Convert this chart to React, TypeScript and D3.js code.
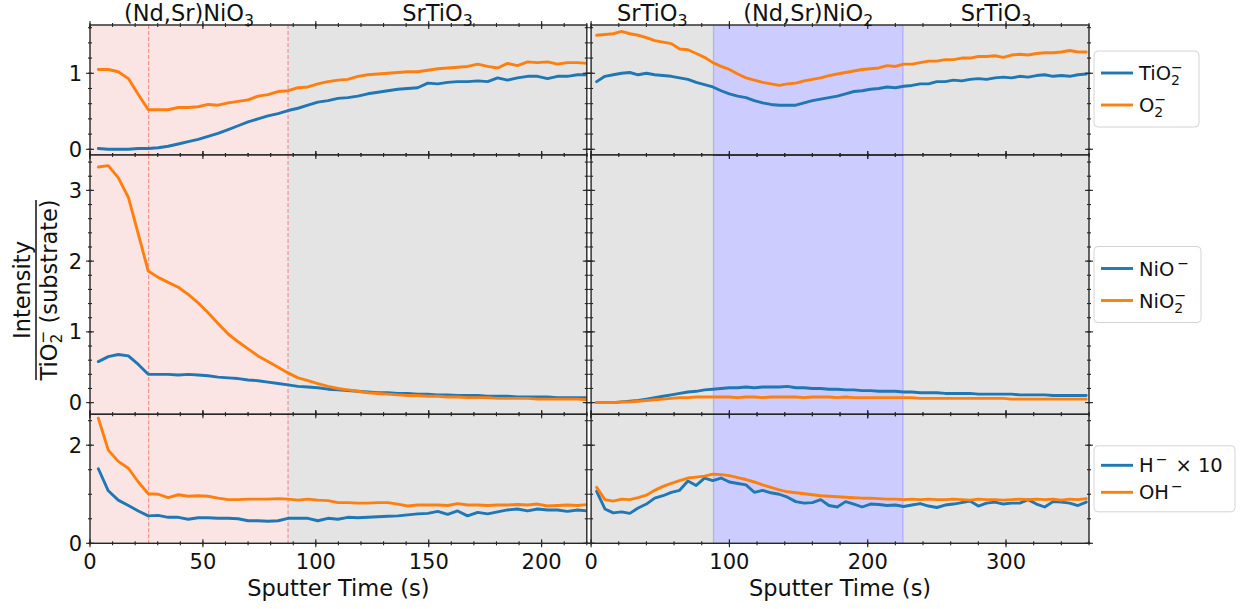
import React from 'react';
import * as d3 from 'd3';

const W = 1242;
const H = 609;
const BLUE = '#1f77b4';
const ORANGE = '#ff7f0e';
const FONT = '"DejaVu Sans", Verdana, sans-serif';

// sputter times (s) of the two depth profiles
const leftTimes = [3.7, 8.1, 12.5, 17.0, 21.4, 25.8, 30.2, 34.6, 39.1, 43.5, 47.9, 52.3, 56.7, 61.2, 65.6, 70.0, 74.4, 78.8, 83.3, 87.7,
  92.1, 96.5, 100.9, 105.4, 109.8, 114.2, 118.6, 123.0, 127.5, 131.9, 136.3, 140.7, 145.1, 149.6, 154.0, 158.4, 162.8, 167.2, 171.7, 176.1,
  180.5, 184.9, 189.3, 193.8, 198.2, 202.6, 207.0, 211.4, 215.9, 220.3];
const rightTimes = [4, 10, 16, 22, 28, 34, 40, 46, 52, 58, 64, 70, 76, 82, 88, 94, 100, 106, 112, 118,
  124, 130, 136, 142, 148, 154, 160, 166, 172, 178, 184, 190, 196, 202, 208, 214, 220, 226, 232, 238,
  244, 250, 256, 262, 268, 274, 280, 286, 292, 298, 304, 310, 316, 322, 328, 334, 340, 346, 352, 358];

// (Nd,Sr)NiO3 / SrTiO3
const leftTiO2 = [0.01, 0.00, 0.00, 0.00, 0.01, 0.01, 0.02, 0.04, 0.07, 0.10, 0.13, 0.17, 0.21, 0.26, 0.31, 0.36, 0.40, 0.44, 0.47, 0.51,
  0.54, 0.58, 0.62, 0.64, 0.67, 0.68, 0.70, 0.73, 0.75, 0.77, 0.79, 0.80, 0.81, 0.87, 0.86, 0.88, 0.89, 0.89, 0.90, 0.89,
  0.94, 0.91, 0.94, 0.96, 0.96, 0.93, 0.96, 0.96, 0.98, 0.98];
const leftO2 = [1.05, 1.05, 1.02, 0.93, 0.72, 0.52, 0.52, 0.52, 0.55, 0.55, 0.56, 0.59, 0.58, 0.61, 0.63, 0.65, 0.70, 0.72, 0.76, 0.77,
  0.81, 0.82, 0.86, 0.89, 0.91, 0.92, 0.96, 0.98, 0.99, 1.00, 1.01, 1.02, 1.02, 1.04, 1.06, 1.07, 1.08, 1.09, 1.12, 1.09,
  1.07, 1.13, 1.10, 1.15, 1.14, 1.15, 1.12, 1.14, 1.14, 1.13];
const leftNiO = [0.58, 0.65, 0.68, 0.66, 0.54, 0.40, 0.40, 0.40, 0.39, 0.40, 0.39, 0.38, 0.36, 0.35, 0.34, 0.32, 0.31, 0.29, 0.27, 0.25,
  0.23, 0.22, 0.21, 0.19, 0.18, 0.17, 0.16, 0.15, 0.14, 0.14, 0.13, 0.13, 0.12, 0.12, 0.11, 0.11, 0.10, 0.10, 0.10, 0.09,
  0.09, 0.09, 0.08, 0.08, 0.08, 0.08, 0.07, 0.07, 0.07, 0.07];
const leftNiO2 = [3.33, 3.35, 3.18, 2.90, 2.38, 1.86, 1.77, 1.70, 1.63, 1.53, 1.41, 1.27, 1.12, 0.97, 0.86, 0.76, 0.66, 0.58, 0.50, 0.42,
  0.35, 0.31, 0.27, 0.23, 0.20, 0.18, 0.16, 0.14, 0.13, 0.12, 0.11, 0.10, 0.10, 0.09, 0.09, 0.08, 0.08, 0.07, 0.07, 0.07,
  0.06, 0.06, 0.06, 0.06, 0.05, 0.05, 0.05, 0.05, 0.05, 0.04];
const leftH = [1.52, 1.07, 0.88, 0.77, 0.66, 0.56, 0.57, 0.53, 0.53, 0.49, 0.52, 0.52, 0.51, 0.51, 0.50, 0.46, 0.46, 0.45, 0.46, 0.51,
  0.51, 0.51, 0.46, 0.51, 0.49, 0.53, 0.52, 0.53, 0.54, 0.55, 0.56, 0.58, 0.60, 0.61, 0.65, 0.59, 0.66, 0.56, 0.63, 0.60,
  0.64, 0.68, 0.70, 0.66, 0.70, 0.68, 0.68, 0.65, 0.68, 0.66];
const leftOH = [2.55, 1.90, 1.67, 1.53, 1.25, 1.01, 1.00, 0.93, 0.99, 0.96, 0.97, 0.96, 0.92, 0.89, 0.89, 0.90, 0.90, 0.90, 0.91, 0.90,
  0.88, 0.90, 0.88, 0.87, 0.83, 0.83, 0.82, 0.82, 0.83, 0.83, 0.80, 0.76, 0.78, 0.78, 0.78, 0.77, 0.81, 0.78, 0.78, 0.77,
  0.78, 0.78, 0.79, 0.78, 0.80, 0.76, 0.77, 0.78, 0.77, 0.79];

// SrTiO3 / (Nd,Sr)NiO2 / SrTiO3
const rightTiO2 = [0.89, 0.96, 0.98, 1.00, 1.01, 0.98, 1.00, 0.98, 0.97, 0.96, 0.94, 0.92, 0.88, 0.85, 0.82, 0.77, 0.73, 0.70, 0.68, 0.64,
  0.61, 0.59, 0.58, 0.58, 0.58, 0.61, 0.64, 0.66, 0.68, 0.70, 0.73, 0.76, 0.77, 0.79, 0.80, 0.82, 0.81, 0.83, 0.84, 0.86,
  0.86, 0.89, 0.89, 0.91, 0.90, 0.92, 0.93, 0.92, 0.94, 0.95, 0.94, 0.96, 0.95, 0.97, 0.98, 0.96, 0.97, 0.96, 0.98, 0.99];
const rightO2 = [1.50, 1.51, 1.52, 1.55, 1.52, 1.50, 1.47, 1.43, 1.41, 1.39, 1.32, 1.31, 1.26, 1.21, 1.14, 1.09, 1.05, 0.99, 0.94, 0.91,
  0.88, 0.86, 0.84, 0.86, 0.87, 0.90, 0.92, 0.94, 0.97, 0.99, 1.01, 1.03, 1.05, 1.06, 1.07, 1.10, 1.09, 1.12, 1.12, 1.14,
  1.16, 1.16, 1.18, 1.18, 1.20, 1.20, 1.22, 1.22, 1.23, 1.21, 1.24, 1.25, 1.24, 1.26, 1.27, 1.27, 1.28, 1.30, 1.28, 1.28];
const rightNiO = [0.00, 0.00, 0.00, 0.01, 0.02, 0.03, 0.05, 0.07, 0.09, 0.11, 0.13, 0.15, 0.16, 0.18, 0.19, 0.20, 0.21, 0.21, 0.22, 0.21,
  0.22, 0.22, 0.22, 0.23, 0.21, 0.21, 0.20, 0.20, 0.19, 0.19, 0.18, 0.18, 0.17, 0.17, 0.16, 0.16, 0.16, 0.15, 0.15, 0.14,
  0.14, 0.14, 0.13, 0.13, 0.13, 0.13, 0.12, 0.12, 0.12, 0.12, 0.12, 0.11, 0.11, 0.11, 0.11, 0.10, 0.10, 0.10, 0.10, 0.10];
const rightNiO2 = [0.00, 0.00, 0.00, 0.01, 0.01, 0.02, 0.03, 0.04, 0.05, 0.06, 0.07, 0.07, 0.08, 0.08, 0.08, 0.08, 0.08, 0.07, 0.08, 0.08,
  0.07, 0.08, 0.08, 0.08, 0.08, 0.07, 0.08, 0.08, 0.08, 0.07, 0.08, 0.07, 0.07, 0.07, 0.07, 0.07, 0.07, 0.07, 0.07, 0.06,
  0.06, 0.06, 0.06, 0.06, 0.06, 0.06, 0.06, 0.06, 0.06, 0.06, 0.05, 0.05, 0.05, 0.05, 0.05, 0.05, 0.05, 0.05, 0.05, 0.05];
const rightH = [1.06, 0.70, 0.62, 0.64, 0.61, 0.72, 0.80, 0.92, 0.97, 1.04, 1.08, 1.27, 1.18, 1.33, 1.28, 1.33, 1.25, 1.22, 1.19, 1.04,
  1.08, 1.03, 1.00, 0.94, 0.85, 0.82, 0.83, 0.89, 0.77, 0.74, 0.85, 0.80, 0.74, 0.80, 0.79, 0.77, 0.78, 0.75, 0.78, 0.81,
  0.76, 0.73, 0.78, 0.80, 0.83, 0.86, 0.76, 0.82, 0.84, 0.80, 0.82, 0.82, 0.89, 0.80, 0.74, 0.85, 0.84, 0.82, 0.77, 0.84];
const rightOH = [1.14, 0.89, 0.86, 0.90, 0.89, 0.93, 0.98, 1.08, 1.16, 1.22, 1.28, 1.33, 1.35, 1.37, 1.41, 1.40, 1.38, 1.34, 1.30, 1.25,
  1.19, 1.14, 1.09, 1.05, 1.03, 1.01, 0.99, 0.97, 0.96, 0.95, 0.94, 0.93, 0.92, 0.92, 0.91, 0.90, 0.90, 0.89, 0.90, 0.89,
  0.90, 0.89, 0.89, 0.90, 0.89, 0.88, 0.90, 0.89, 0.89, 0.88, 0.89, 0.90, 0.89, 0.90, 0.89, 0.90, 0.88, 0.90, 0.89, 0.91];

const leftXTicks = [0, 50, 100, 150, 200];
const rightXTicks = [0, 100, 200, 300];
const yTicksTop = [0, 1];
const yTicksMid = [0, 1, 2, 3];
const yTicksBot = [0, 2];

// layer boundaries (s)
const leftInterfaces = [26, 87.7];
const rightBand = [88.5, 225.5];

const cols = [
  { x0: 90, x1: 586.8, domain: [0, 220], minor: 10, ticks: leftXTicks, times: leftTimes },
  { x0: 591.1, x1: 1089, domain: [0, 360], minor: 20, ticks: rightXTicks, times: rightTimes },
];
const rows = [
  { y0: 25, y1: 155, domain: [-0.075, 1.635], minor: 0.2, ticks: yTicksTop, series: [[leftTiO2, leftO2], [rightTiO2, rightO2]] },
  { y0: 155, y1: 414.3, domain: [-0.165, 3.5], minor: 0.2, ticks: yTicksMid, series: [[leftNiO, leftNiO2], [rightNiO, rightNiO2]] },
  { y0: 414.3, y1: 543.3, domain: [0, 2.63], minor: 0.5, ticks: yTicksBot, series: [[leftH, leftOH], [rightH, rightOH]] },
];

const FRAME = '#262626';
const PINK = '#fbe4e4';
const GRAY = '#e4e4e4';
const LABEL = 22.5;
const TICK = 21;

function Chem({ base, idx }: { base: string; idx: string }) {
  return (
    <>
      <tspan>{base}</tspan>
      <tspan fontSize={LABEL * 0.7} dy={5}>{idx}</tspan>
    </>
  );
}

function Panel({ ci, ri }: { ci: number; ri: number }) {
  const c = cols[ci];
  const r = rows[ri];
  const x = d3.scaleLinear().domain(c.domain).range([c.x0, c.x1]);
  const y = d3.scaleLinear().domain(r.domain).range([r.y1, r.y0]);
  const id = `clip-${ci}-${ri}`;
  const line = d3.line<number>().x((_, i) => x(c.times[i])).y((d) => y(d));
  const [blueS, orangeS] = r.series[ci];

  const xMinor = d3.range(c.domain[0], c.domain[1] + 1e-9, c.minor);
  const yMinor = d3.range(Math.ceil(r.domain[0] / r.minor) * r.minor, r.domain[1] + 1e-9, r.minor);

  return (
    <g>
      <defs>
        <clipPath id={id}>
          <rect x={c.x0} y={r.y0} width={c.x1 - c.x0} height={r.y1 - r.y0} />
        </clipPath>
      </defs>
      <g clipPath={`url(#${id})`}>
        {ci === 0 ? (
          <>
            <rect x={x(0)} y={r.y0} width={x(leftInterfaces[1]) - x(0)} height={r.y1 - r.y0} fill={PINK} />
            <rect x={x(leftInterfaces[1])} y={r.y0} width={c.x1 - x(leftInterfaces[1])} height={r.y1 - r.y0} fill={GRAY} />
            {leftInterfaces.map((t) => (
              <line key={t} x1={x(t)} x2={x(t)} y1={r.y0} y2={r.y1} stroke="#f08080" strokeWidth={1} strokeDasharray="4,2" />
            ))}
          </>
        ) : (
          <>
            <rect x={c.x0} y={r.y0} width={x(rightBand[0]) - c.x0} height={r.y1 - r.y0} fill={GRAY} />
            <rect x={x(rightBand[1])} y={r.y0} width={c.x1 - x(rightBand[1])} height={r.y1 - r.y0} fill={GRAY} />
            <rect x={x(rightBand[0])} y={r.y0 - 2} width={x(rightBand[1]) - x(rightBand[0])} height={r.y1 - r.y0 + 4}
              fill="rgba(0,0,255,0.2)" stroke="rgba(0,0,255,0.18)" strokeWidth={1.3} />
          </>
        )}
        <path d={line(blueS) || ''} fill="none" stroke={BLUE} strokeWidth={2.9} strokeLinejoin="round" strokeLinecap="round" />
        <path d={line(orangeS) || ''} fill="none" stroke={ORANGE} strokeWidth={2.9} strokeLinejoin="round" strokeLinecap="round" />
      </g>
      {/* ticks on all four sides, inout */}
      <g stroke={FRAME} strokeWidth={1.1}>
        {xMinor.map((t) => (
          <g key={'xm' + t}>
            <line x1={x(t)} x2={x(t)} y1={r.y1 - 2} y2={r.y1 + 2} />
            <line x1={x(t)} x2={x(t)} y1={r.y0 - 2} y2={r.y0 + 2} />
          </g>
        ))}
        {c.ticks.map((t) => (
          <g key={'xM' + t}>
            <line x1={x(t)} x2={x(t)} y1={r.y1 - 4} y2={r.y1 + 4} />
            <line x1={x(t)} x2={x(t)} y1={r.y0 - 4} y2={r.y0 + 4} />
          </g>
        ))}
        {yMinor.map((t) => (
          <g key={'ym' + t}>
            <line y1={y(t)} y2={y(t)} x1={c.x0 - 2} x2={c.x0 + 2} />
            <line y1={y(t)} y2={y(t)} x1={c.x1 - 2} x2={c.x1 + 2} />
          </g>
        ))}
        {r.ticks.map((t) => (
          <g key={'yM' + t}>
            <line y1={y(t)} y2={y(t)} x1={c.x0 - 4} x2={c.x0 + 4} />
            <line y1={y(t)} y2={y(t)} x1={c.x1 - 4} x2={c.x1 + 4} />
          </g>
        ))}
      </g>
      <rect x={c.x0} y={r.y0} width={c.x1 - c.x0} height={r.y1 - r.y0} fill="none" stroke={FRAME} strokeWidth={1.4} />
      {ci === 0 &&
        r.ticks.map((t) => (
          <text key={'yl' + t} x={c.x0 - 8} y={y(t) + 7.6} textAnchor="end" fontSize={TICK} fill="#111">{t}</text>
        ))}
      {ri === 2 &&
        c.ticks.map((t) => (
          <text key={'xl' + t} x={x(t)} y={568.5} textAnchor="middle" fontSize={TICK} fill="#111">{t}</text>
        ))}
    </g>
  );
}

function Legend({ cy, width, gap, entries }: { cy: number; width: number; gap: number; entries: { color: string; label: React.ReactNode }[] }) {
  const x0 = 1094;
  const h = gap * entries.length + 12;
  const top = cy - h / 2;
  return (
    <g>
      <rect x={x0} y={top} width={width} height={h} rx={4} fill="rgba(255,255,255,0.8)" stroke="#d4d4d4" strokeWidth={1} />
      {entries.map((e, i) => {
        const yy = cy + (i - (entries.length - 1) / 2) * gap;
        return (
          <g key={i}>
            <line x1={x0 + 7} x2={x0 + 39} y1={yy} y2={yy} stroke={e.color} strokeWidth={2.9} />
            <text x={x0 + 45} y={yy + 7} fontSize={19.5} fill="#111">{e.label}</text>
          </g>
        );
      })}
    </g>
  );
}

const leftLayerNames = [
  { t: [0, 87.7], label: <Chem base="(Nd,Sr)NiO" idx="3" /> },
  { t: [87.7, 220], label: <Chem base="SrTiO" idx="3" /> },
];
const rightLayerNames = [
  { t: [0, 88.5], label: <Chem base="SrTiO" idx="3" /> },
  { t: [88.5, 225.5], label: <Chem base="(Nd,Sr)NiO" idx="2" /> },
  { t: [225.5, 360], label: <Chem base="SrTiO" idx="3" /> },
];

export default function App() {
  const xl = d3.scaleLinear().domain(cols[0].domain).range([cols[0].x0, cols[0].x1]);
  const xr = d3.scaleLinear().domain(cols[1].domain).range([cols[1].x0, cols[1].x1]);
  const minus = '\u2212';
  const subSup = (base: string) => (
    <><tspan>{base}</tspan><tspan fontSize={14} dy={5}>2</tspan><tspan fontSize={14} dx={-8.9} dy={-13}>{minus}</tspan></>
  );
  return (
    <svg width={W} height={H} style={{ position: 'absolute', left: 0, top: 0, background: '#fff' }} fontFamily={FONT}>
      <rect width={W} height={H} fill="#fff" />
      {rows.map((_, ri) => cols.map((_, ci) => <Panel key={`${ci}-${ri}`} ci={ci} ri={ri} />))}

      {leftLayerNames.map((d, i) => (
        <text key={'ll' + i} x={xl((d.t[0] + d.t[1]) / 2)} y={20.5} textAnchor="middle" fontSize={LABEL} fill="#111">{d.label}</text>
      ))}
      {rightLayerNames.map((d, i) => (
        <text key={'rl' + i} x={xr((d.t[0] + d.t[1]) / 2)} y={20.5} textAnchor="middle" fontSize={LABEL} fill="#111">{d.label}</text>
      ))}

      <text x={(cols[0].x0 + cols[0].x1) / 2} y={596} textAnchor="middle" fontSize={LABEL} fill="#111">Sputter Time (s)</text>
      <text x={(cols[1].x0 + cols[1].x1) / 2} y={596} textAnchor="middle" fontSize={LABEL} fill="#111">Sputter Time (s)</text>

      {/* y label as a fraction */}
      <g transform="translate(0,290) rotate(-90)" fill="#111">
        <text x={0} y={30} textAnchor="middle" fontSize={LABEL}>Intensity</text>
        <line x1={-90} x2={90} y1={36} y2={36} stroke="#111" strokeWidth={1.5} />
        <text x={0} y={56.5} textAnchor="middle" fontSize={LABEL}>
          <tspan>TiO</tspan>
          <tspan fontSize={15.5} dy={5}>2</tspan>
          <tspan fontSize={15.5} dx={-9.9} dy={-14}>{minus}</tspan>
          <tspan dy={9}> (substrate)</tspan>
        </text>
      </g>

      <Legend cy={89} width={105} gap={32} entries={[
        { color: BLUE, label: subSup('TiO') },
        { color: ORANGE, label: subSup('O') },
      ]} />
      <Legend cy={284.5} width={107} gap={32} entries={[
        { color: BLUE, label: <><tspan>NiO</tspan><tspan fontSize={14} dx={3} dy={-8}>{minus}</tspan></> },
        { color: ORANGE, label: subSup('NiO') },
      ]} />
      <Legend cy={478.8} width={141} gap={27} entries={[
        { color: BLUE, label: <><tspan>H</tspan><tspan fontSize={14} dx={2} dy={-8}>{minus}</tspan><tspan dx={8} dy={8}>× 10</tspan></> },
        { color: ORANGE, label: <><tspan>OH</tspan><tspan fontSize={14} dx={2} dy={-8}>{minus}</tspan></> },
      ]} />
    </svg>
  );
}
